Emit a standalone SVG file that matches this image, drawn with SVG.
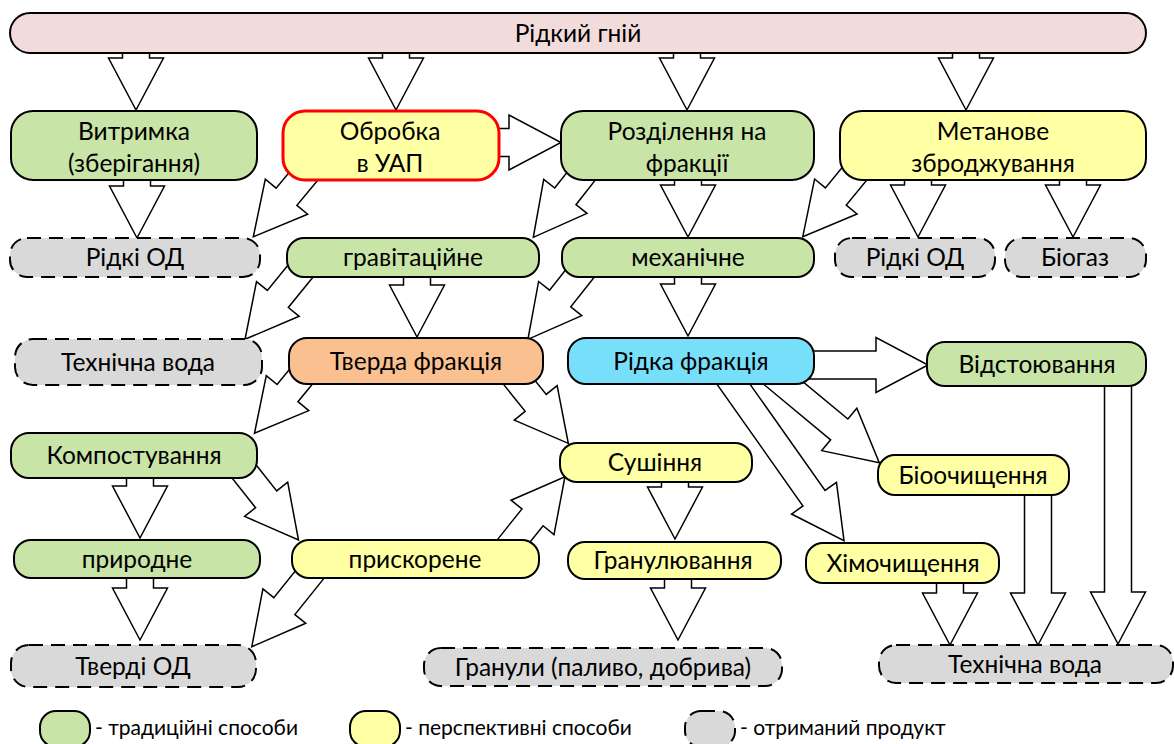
<svg xmlns="http://www.w3.org/2000/svg" width="1174" height="744" viewBox="0 0 1174 744">
<style>
.n{stroke:#000;stroke-width:2}
.t{fill:#f2dcdb}
.g{fill:#c9e4a7}
.y{fill:#ffffa3}
.o{fill:#fac090}
.c{fill:#77dff9}
.p{fill:#d9d9d9;stroke-dasharray:14 8}
.r{stroke:#ff0000;stroke-width:3}
.a{fill:#fff;stroke:#000;stroke-width:1.5;stroke-linejoin:miter}
text{font-family:Lato,"Noto Sans",sans-serif;font-size:24.5px;fill:#000;text-anchor:middle}
.l{font-size:21px;text-anchor:start}
</style>
<g id="connectors">
<polygon class="a" transform="translate(136,45) rotate(90)" points="0,-13.5 13,-13.5 13,-27.5 65,0 13,27.5 13,13.5 0,13.5"/>
<polygon class="a" transform="translate(396,45) rotate(90)" points="0,-13.5 13,-13.5 13,-27.5 65,0 13,27.5 13,13.5 0,13.5"/>
<polygon class="a" transform="translate(687,45) rotate(90)" points="0,-13.5 13,-13.5 13,-27.5 65,0 13,27.5 13,13.5 0,13.5"/>
<polygon class="a" transform="translate(966,45) rotate(90)" points="0,-13.5 13,-13.5 13,-27.5 65,0 13,27.5 13,13.5 0,13.5"/>
<polygon class="a" transform="translate(137,172) rotate(90)" points="0,-13.5 14,-13.5 14,-27.5 66,0 14,27.5 14,13.5 0,13.5"/>
<polygon class="a" transform="translate(688,172) rotate(90)" points="0,-13.5 13,-13.5 13,-27.5 65,0 13,27.5 13,13.5 0,13.5"/>
<polygon class="a" transform="translate(918,172) rotate(90)" points="0,-13.5 13,-13.5 13,-27.5 65,0 13,27.5 13,13.5 0,13.5"/>
<polygon class="a" transform="translate(1073,172) rotate(90)" points="0,-13.5 13,-13.5 13,-27.5 65,0 13,27.5 13,13.5 0,13.5"/>
<polygon class="a" transform="translate(417,268) rotate(90)" points="0,-13.5 17,-13.5 17,-27.5 69,0 17,27.5 17,13.5 0,13.5"/>
<polygon class="a" transform="translate(688,268) rotate(90)" points="0,-13.5 16,-13.5 16,-27.5 68,0 16,27.5 16,13.5 0,13.5"/>
<polygon class="a" transform="translate(140,470) rotate(90)" points="0,-13.5 16,-13.5 16,-27.5 68,0 16,27.5 16,13.5 0,13.5"/>
<polygon class="a" transform="translate(140,572) rotate(90)" points="0,-13.5 16,-13.5 16,-27.5 68,0 16,27.5 16,13.5 0,13.5"/>
<polygon class="a" transform="translate(675,474) rotate(90)" points="0,-13.5 13,-13.5 13,-27.5 65,0 13,27.5 13,13.5 0,13.5"/>
<polygon class="a" transform="translate(678,570) rotate(90)" points="0,-13.5 18,-13.5 18,-27.5 70,0 18,27.5 18,13.5 0,13.5"/>
<polygon class="a" transform="translate(950,575) rotate(90)" points="0,-13.5 18,-13.5 18,-27.5 70,0 18,27.5 18,13.5 0,13.5"/>
<polygon class="a" transform="translate(1038,487) rotate(90)" points="0,-13.5 106,-13.5 106,-27.5 158,0 106,27.5 106,13.5 0,13.5"/>
<polygon class="a" transform="translate(1118,378) rotate(90)" points="0,-13.5 214,-13.5 214,-27.5 266,0 214,27.5 214,13.5 0,13.5"/>
<polygon class="a" transform="translate(490,142.5)" points="0,-14 19,-14 19,-27.5 71,0 19,27.5 19,14 0,14"/>
<polygon class="a" transform="translate(805,365)" points="0,-14 71,-14 71,-27.5 123,0 71,27.5 71,14 0,14"/>
<polygon class="a" transform="translate(309.4,169.1) rotate(129.65)" points="0,-13.5 35.9,-13.5 35.9,-27.5 87.9,0 35.9,27.5 35.9,13.5 0,13.5"/>
<polygon class="a" transform="translate(589.9,165.05) rotate(128.07)" points="0,-13.5 39.8,-13.5 39.8,-27.5 91.8,0 39.8,27.5 39.8,13.5 0,13.5"/>
<polygon class="a" transform="translate(863.2,163.2) rotate(129.43)" points="0,-13.5 43.1,-13.5 43.1,-27.5 95.1,0 43.1,27.5 43.1,13.5 0,13.5"/>
<polygon class="a" transform="translate(306.1,264.2) rotate(129.11)" points="0,-13.5 44.8,-13.5 44.8,-27.5 96.8,0 44.8,27.5 44.8,13.5 0,13.5"/>
<polygon class="a" transform="translate(585.4,266.6) rotate(128.31)" points="0,-13.5 40.7,-13.5 40.7,-27.5 92.7,0 40.7,27.5 40.7,13.5 0,13.5"/>
<polygon class="a" transform="translate(307.6,368.7) rotate(129.45)" points="0,-13.5 31.6,-13.5 31.6,-27.5 83.6,0 31.6,27.5 31.6,13.5 0,13.5"/>
<polygon class="a" transform="translate(512.5,374) rotate(51.17)" points="0,-13.5 37,-13.5 37,-27.5 89,0 37,27.5 37,13.5 0,13.5"/>
<polygon class="a" transform="translate(237.8,463.6) rotate(51.55)" points="0,-13.5 45.6,-13.5 45.6,-27.5 97.6,0 45.6,27.5 45.6,13.5 0,13.5"/>
<polygon class="a" transform="translate(505.8,550.8) rotate(-51.38)" points="0,-13.5 42.8,-13.5 42.8,-27.5 94.8,0 42.8,27.5 42.8,13.5 0,13.5"/>
<polygon class="a" transform="translate(316.2,566.4) rotate(128.75)" points="0,-13.5 50.9,-13.5 50.9,-27.5 102.9,0 50.9,27.5 50.9,13.5 0,13.5"/>
<polygon class="a" transform="translate(769.1,371.2) rotate(39.7)" points="0,-13.5 91.2,-13.5 91.2,-27.5 143.2,0 91.2,27.5 91.2,13.5 0,13.5"/>
<polygon class="a" transform="translate(724.8,371.9) rotate(54.76)" points="0,-13.5 154.6,-13.5 154.6,-27.5 206.6,0 154.6,27.5 154.6,13.5 0,13.5"/>
</g>
<g id="ridkyi-hnii"><rect class="n t" x="10" y="13" width="1136" height="40" rx="20"/><text x="578" y="42">Рідкий гній</text></g>
<g id="vytrymka"><rect class="n g" x="11" y="111" width="246" height="69" rx="22"/><text x="134" y="139.5">Витримка</text><text x="134" y="172">(зберігання)</text></g>
<g id="obrobka"><rect class="n y r" x="283" y="111" width="216" height="69" rx="22"/><text x="390" y="139.5">Обробка</text><text x="390" y="172">в УАП</text></g>
<g id="rozdilennia"><rect class="n g" x="561" y="111" width="253" height="69" rx="22"/><text x="687" y="139.5">Розділення на</text><text x="687" y="172">фракції</text></g>
<g id="metanove"><rect class="n y" x="840" y="111" width="306" height="69" rx="22"/><text x="993" y="139.5">Метанове</text><text x="993" y="172">зброджування</text></g>
<g id="ridki-od-1"><rect class="n p" x="10" y="238" width="250" height="39" rx="17"/><text x="135" y="266">Рідкі ОД</text></g>
<g id="hravitatsiine"><rect class="n g" x="287" y="238" width="252" height="39" rx="17"/><text x="413" y="266">гравітаційне</text></g>
<g id="mekhanichne"><rect class="n g" x="562" y="238" width="252" height="39" rx="17"/><text x="688" y="266">механічне</text></g>
<g id="ridki-od-2"><rect class="n p" x="835" y="238" width="160" height="39" rx="17"/><text x="915" y="266">Рідкі ОД</text></g>
<g id="biohaz"><rect class="n p" x="1005" y="238" width="141" height="39" rx="17"/><text x="1075" y="266">Біогаз</text></g>
<g id="tekhnichna-voda-1"><rect class="n p" x="15" y="339" width="247" height="46" rx="18"/><text x="138" y="370.5">Технічна вода</text></g>
<g id="tverda-fraktsiia"><rect class="n o" x="289" y="338" width="254" height="46" rx="18"/><text x="416" y="369.5">Тверда фракція</text></g>
<g id="ridka-fraktsiia"><rect class="n c" x="568" y="338" width="246" height="46" rx="18"/><text x="691" y="369.5">Рідка фракція</text></g>
<g id="vidstoiuvannia"><rect class="n g" x="927" y="342" width="219" height="44" rx="18"/><text x="1037" y="372.5">Відстоювання</text></g>
<g id="kompostuvannia"><rect class="n g" x="11" y="433" width="246" height="45" rx="18"/><text x="134" y="464">Компостування</text></g>
<g id="sushinnia"><rect class="n y" x="560" y="443" width="192" height="39" rx="17"/><text x="655" y="471">Сушіння</text></g>
<g id="bioochyshchennia"><rect class="n y" x="878" y="455" width="191" height="40" rx="17"/><text x="973" y="483.5">Біоочищення</text></g>
<g id="pryrodne"><rect class="n g" x="14" y="540" width="246" height="38" rx="17"/><text x="137" y="567.5">природне</text></g>
<g id="pryskorene"><rect class="n y" x="292" y="540" width="247" height="38" rx="17"/><text x="415" y="567.5">прискорене</text></g>
<g id="hranuliuvannia"><rect class="n y" x="568" y="542" width="213" height="37" rx="17"/><text x="673" y="569">Гранулювання</text></g>
<g id="khimochyshchennia"><rect class="n y" x="806" y="543" width="193" height="40" rx="17"/><text x="903" y="571.5">Хімочищення</text></g>
<g id="tverdi-od"><rect class="n p" x="11" y="645" width="245" height="42" rx="18"/><text x="133" y="674.5">Тверді ОД</text></g>
<g id="hranuly"><rect class="n p" x="424" y="648" width="358" height="38" rx="17"/><text x="603" y="675.5">Гранули (паливо, добрива)</text></g>
<g id="tekhnichna-voda-2"><rect class="n p" x="879" y="645" width="294" height="38" rx="17"/><text x="1025" y="672.5">Технічна вода</text></g>
<g id="legend">
<rect class="n g" x="40" y="711" width="50" height="36" rx="16"/><text class="l" x="95" y="735">- традиційні способи</text>
<rect class="n y" x="350" y="711" width="50" height="36" rx="16"/><text class="l" x="405" y="735">- перспективні способи</text>
<rect class="n p" x="685" y="711" width="50" height="36" rx="16"/><text class="l" x="740" y="735">- отриманий продукт</text>
</g>
</svg>
